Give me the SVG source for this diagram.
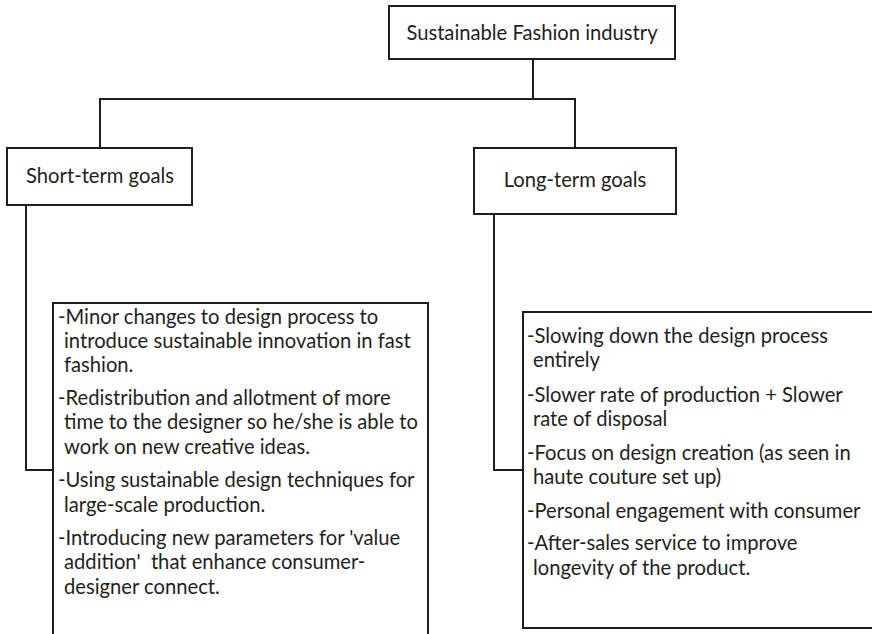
<svg xmlns="http://www.w3.org/2000/svg" width="872" height="634" viewBox="0 0 872 634">
  <style>
    .box { fill: #ffffff; stroke: #1e1e1e; stroke-width: 2; }
    .link { fill: none; stroke: #1e1e1e; stroke-width: 2; }
    text { font-family: Lato, "Open Sans", "Liberation Sans", sans-serif; font-size: 20.2px; fill: #231f20; white-space: pre; }
    .title { text-anchor: middle; }
  </style>
  <rect width="872" height="634" fill="#ffffff"/>

  <!-- tree connectors -->
  <g id="connectors">
    <path class="link" d="M533 59 V99"/>
    <path class="link" d="M100 148 V99 H575 V148"/>
    <path class="link" d="M26 205 V470 H53"/>
    <path class="link" d="M494 214 V470 H523"/>
  </g>

  <g id="root">
    <rect class="box" x="389" y="6" width="286" height="53"/>
    <text class="title" x="532" y="40">Sustainable Fashion industry</text>
  </g>

  <g id="short-term">
    <rect class="box" x="7" y="148" width="185" height="57"/>
    <text class="title" x="100" y="183">Short-term goals</text>
  </g>

  <g id="long-term">
    <rect class="box" x="474" y="148" width="202" height="66"/>
    <text class="title" x="575" y="187">Long-term goals</text>
  </g>

  <g id="short-term-actions">
    <rect class="box" x="53" y="303" width="375" height="345"/>
    <text x="58" y="324">-Minor changes to design process to</text>
    <text x="64" y="348">introduce sustainable innovation in fast</text>
    <text x="64" y="372">fashion.</text>
    <text x="58" y="405">-Redistribution and allotment of more</text>
    <text x="64" y="429">time to the designer so he/she is able to</text>
    <text x="64" y="454">work on new creative ideas.</text>
    <text x="58" y="487">-Using sustainable design techniques for</text>
    <text x="64" y="512">large-scale production.</text>
    <text x="58" y="545">-Introducing new parameters for 'value</text>
    <text x="64" y="569">addition'  that enhance consumer-</text>
    <text x="64" y="594">designer connect.</text>
  </g>

  <g id="long-term-actions">
    <rect class="box" x="523" y="312" width="360" height="316"/>
    <text x="527" y="343">-Slowing down the design process</text>
    <text x="533" y="367">entirely</text>
    <text x="527" y="402">-Slower rate of production + Slower</text>
    <text x="533" y="426">rate of disposal</text>
    <text x="527" y="460">-Focus on design creation (as seen in</text>
    <text x="533" y="484">haute couture set up)</text>
    <text x="527" y="518">-Personal engagement with consumer</text>
    <text x="527" y="550">-After-sales service to improve</text>
    <text x="533" y="575">longevity of the product.</text>
  </g>
</svg>
